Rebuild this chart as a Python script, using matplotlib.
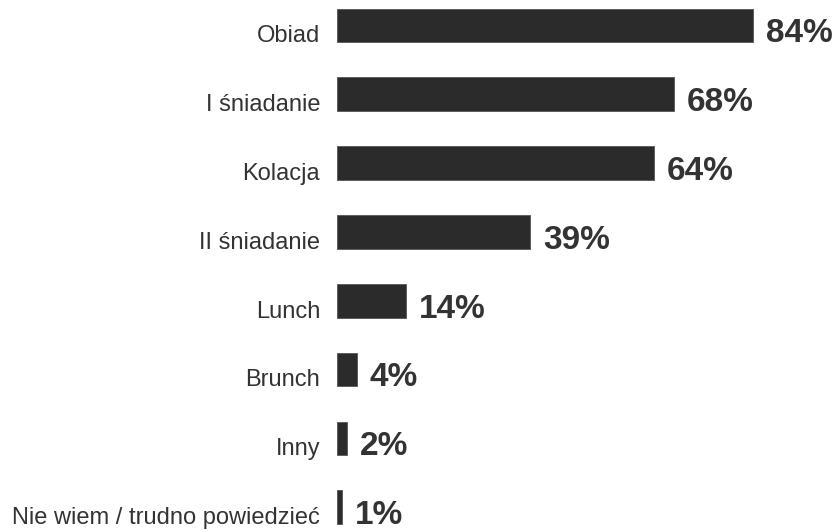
import matplotlib.pyplot as plt
import numpy as np

# dane
kategorie = ["Obiad", "I śniadanie", "Kolacja", "II śniadanie", "Lunch",
             "Brunch", "Inny", "Nie wiem / trudno powiedzieć"]
wartosci = [84, 68, 64, 39, 14, 4, 2, 1]

kolor = "#2b2b2b"

fig = plt.figure(figsize=(8.38, 5.32), dpi=100)
ax = fig.add_axes([337/838, 0, 495/838, 1])

y = np.arange(len(kategorie))
ax.barh(y, wartosci, height=0.49, color=kolor, edgecolor="#555555", linewidth=0.6)

ax.set_xlim(0, 100)
ax.set_ylim(7.36, -0.37)
ax.axis("off")

for i, (k, v) in enumerate(zip(kategorie, wartosci)):
    ax.text(-3.4, i + 0.245, k, ha="right", va="baseline", fontsize=17,
            family="Liberation Sans", color="#333333", clip_on=False)
    ax.text(v + 2.6, i + 0.245, str(v) + "%", ha="left", va="baseline",
            fontsize=24, fontweight="bold", family="Liberation Sans",
            color="#333333", clip_on=False)

fig.savefig("out.png", dpi=100)
